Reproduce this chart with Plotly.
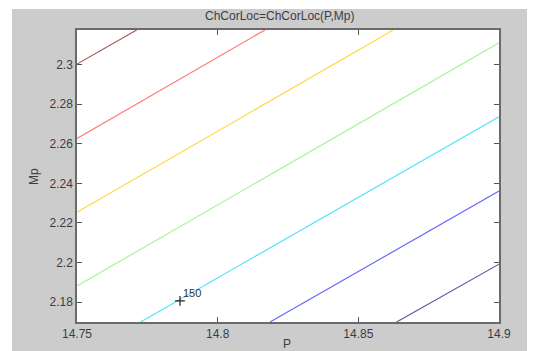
import plotly.graph_objects as go

# Contour lines of ChCorLoc(P, Mp) (start/end points)
P_start = [14.75, 14.75, 14.75, 14.75, 14.7726, 14.8186, 14.8636]
Mp_start = [2.3002, 2.2627, 2.2254, 2.1882, 2.17, 2.17, 2.17]
P_end = [14.7712, 14.8168, 14.8624, 14.9, 14.9, 14.9, 14.9]
Mp_end = [2.3174, 2.3174, 2.3174, 2.3109, 2.2736, 2.2361, 2.1992]

# Contour label
label_P = [14.7866]
label_Mp = [2.1807]
label_text = "150"

# Axes
x_ticks = [14.75, 14.8, 14.85, 14.9]
x_ticktext = ["14.75", "14.8", "14.85", "14.9"]
y_ticks = [2.18, 2.2, 2.22, 2.24, 2.26, 2.28, 2.3]
y_ticktext = ["2.18", "2.2", "2.22", "2.24", "2.26", "2.28", "2.3"]
x_range = [14.75, 14.9]
y_range = [2.17, 2.3174]

line_colors = ["#a85a5a", "#ff7a7a", "#ffd84a", "#a8f59a", "#55e2ff", "#6a6aff", "#5a5aa8"]

FONT = "Liberation Sans, Arial, sans-serif"
TXT = "#3c3c44"

fig = go.Figure()
for i in range(len(P_start)):
    fig.add_trace(go.Scatter(
        x=[P_start[i], P_end[i]], y=[Mp_start[i], Mp_end[i]],
        mode="lines", line=dict(color=line_colors[i], width=1.2),
        showlegend=False, hoverinfo="skip"))

fig.add_trace(go.Scatter(
    x=label_P, y=label_Mp, mode="markers",
    marker=dict(symbol="cross-thin", size=7, line=dict(color="#222222", width=1.2)),
    showlegend=False, hoverinfo="skip"))

# page body margin offset (8px) compensated: screen px -> figure px
OFF = 8
W, H = 527, 343
L, T = 77 - OFF, 30 - OFF
pw, ph = 422, 292
R, B = W - L - pw, H - T - ph

def px_x(sx):
    return (sx - OFF - L) / pw

def px_y(sy):
    return (T + ph - (sy - OFF)) / ph

fig.update_layout(
    width=W, height=H,
    margin=dict(l=L, r=R, t=T, b=B, autoexpand=False),
    paper_bgcolor="white",
    plot_bgcolor="rgba(0,0,0,0)",
    font=dict(family=FONT, size=12, color=TXT),
    shapes=[
        dict(type="rect", xref="paper", yref="paper", layer="below",
             x0=px_x(12), x1=px_x(545), y0=px_y(360), y1=px_y(9),
             fillcolor="#cccccc", line=dict(width=0)),
        dict(type="rect", xref="paper", yref="paper", layer="below",
             x0=0, x1=1, y0=0, y1=1,
             fillcolor="white", line=dict(width=0)),
    ],
    annotations=[
        dict(text=label_text, x=label_P[0], y=label_Mp[0], xref="x", yref="y",
             xanchor="left", yanchor="middle", xshift=1, yshift=8,
             showarrow=False, font=dict(family=FONT, size=11, color="#333333")),
        dict(text="ChCorLoc=ChCorLoc(P,Mp)", xref="paper", yref="paper",
             x=px_x(280), y=px_y(16), xanchor="center", yanchor="middle",
             showarrow=False, font=dict(size=12, color=TXT)),
        dict(text="P", xref="paper", yref="paper",
             x=px_x(287), y=px_y(344), xanchor="center", yanchor="middle",
             showarrow=False, font=dict(size=12, color=TXT)),
        dict(text="Mp", xref="paper", yref="paper", textangle=-90,
             x=px_x(34), y=px_y(177), xanchor="center", yanchor="middle",
             showarrow=False, font=dict(size=12, color=TXT)),
    ],
)

axis_common = dict(
    showgrid=False, zeroline=False,
    showline=True, linecolor="#6a6a6a", linewidth=1.5, mirror="ticks",
    ticks="inside", ticklen=5, tickcolor="#555555", tickwidth=1.2,
    tickfont=dict(family=FONT, size=12, color=TXT),
)
fig.update_xaxes(range=x_range, tickvals=x_ticks, ticktext=x_ticktext, **axis_common)
fig.update_yaxes(range=y_range, tickvals=y_ticks, ticktext=y_ticktext, **axis_common)

fig.write_html("out.html")
